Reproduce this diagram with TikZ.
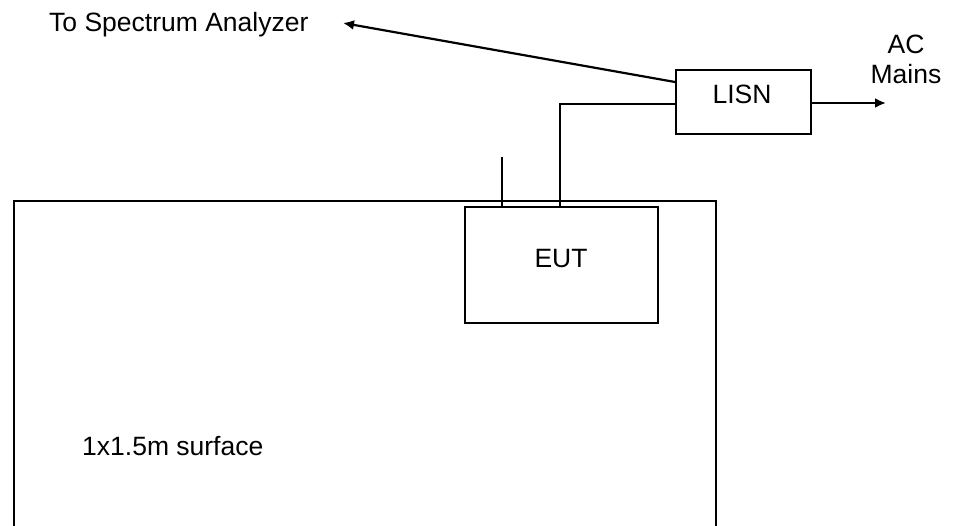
\documentclass[tikz,border=0pt]{standalone}
\usepackage{fontspec}
\setmainfont{Liberation Sans}
\usetikzlibrary{arrows.meta}
\begin{document}
\begin{tikzpicture}[x=1pt,y=-1pt,
  wire/.style={line width=2.2pt},
  arrowline/.style={line width=2.2pt,-{Latex[length=11pt,width=10pt]}},
  box/.style={draw,line width=2.2pt,inner sep=0pt,anchor=north west},
  txt/.style={inner sep=0pt,font=\fontsize{26.5}{30}\selectfont},
]
\useasboundingbox (0,0) rectangle (953,525);
% surface
\draw[wire] (14,530) -- (14,201) -- (716,201) -- (716,530);
\node[txt,anchor=base west] (surflabel) at (82,455) {1x1.5m surface};
% EUT
\node[box,minimum width=193pt,minimum height=116pt] (eut) at (464,206) {};
\node[txt,anchor=base] (euttext) at (561,267) {EUT};
% LISN
\node[box,minimum width=135pt,minimum height=64pt] (lisn) at (675,69) {};
\node[txt,anchor=base] (lisntext) at (742,103) {LISN};
% texts
\node[txt,anchor=base west] (satext) at (49,31) {To Spectrum Analyzer};
\node[txt,align=center,anchor=base] (actext) at (906,83) {AC\\Mains};
% free ends
\coordinate (satip) at (343,23);
\coordinate (actip) at (886,103);
\coordinate (stub) at (502,157);
\coordinate (corner) at (560,104);
% connectors
\draw[arrowline] (lisn.west |- 0,82) -- (satip);
\draw[arrowline] (lisn.east |- actip) -- (actip);
\draw[wire] (lisn.west |- corner) -- (corner) -- (corner |- eut.north);
\draw[wire] (stub) -- (stub |- eut.north);
\end{tikzpicture}
\end{document}
